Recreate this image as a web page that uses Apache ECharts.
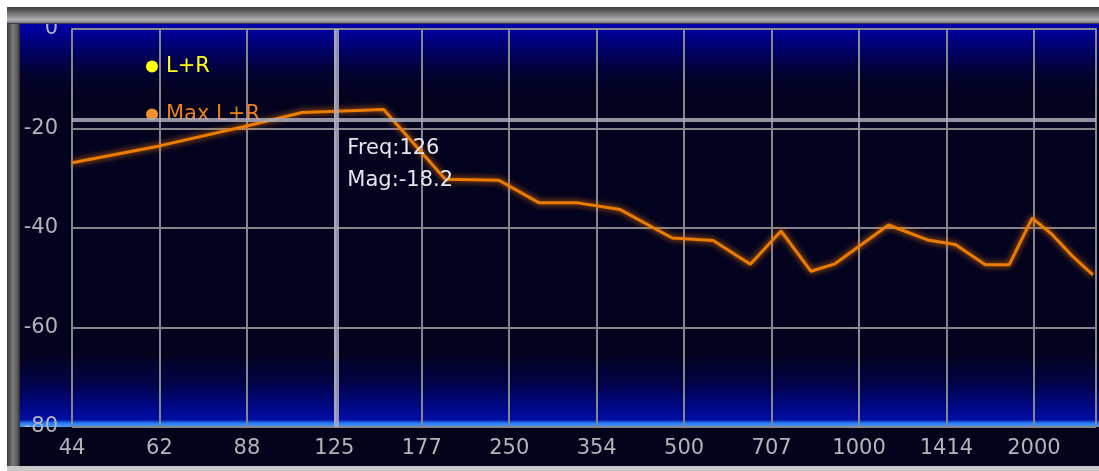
<!DOCTYPE html>
<html>
<head>
<meta charset="utf-8">
<script src="https://cdn.jsdelivr.net/npm/echarts@6/dist/echarts.min.js"></script>
<style>
  html, body { margin: 0; padding: 0; background: #ffffff; }
  #chart { width: 1099px; height: 471px; }
</style>
</head>
<body>
<div id="chart"></div>
<script>
// Frequency axis: one tick every half octave, labels as shown by the analyzer
const tickLabels = ['44', '62', '88', '125', '177', '250', '354', '500', '707', '1000', '1414', '2000'];
// Magnitude axis ticks (dB)
const magTicks = [-80, -60, -40, -20, 0];

// Peak-hold spectrum "Max L+R": frequency (Hz) and magnitude (dB)
const maxFreq = [44.2, 62.5, 88.3, 110, 152, 194, 240, 281, 326, 388, 477, 561, 650, 734, 827, 909, 1124, 1312, 1465, 1650, 1813, 1986, 2141, 2327, 2527];
const maxMag  = [-26.9, -23.5, -19.5, -16.8, -16.2, -30.2, -30.4, -34.9, -34.9, -36.3, -42.0, -42.5, -47.3, -40.6, -48.7, -47.2, -39.4, -42.4, -43.3, -47.4, -47.4, -38.0, -41.1, -45.6, -49.4];

// Live spectrum "L+R" (no trace captured)
const liveFreq = [];
const liveMag = [];

// Cursor read-out
const cursorFreq = 126;
const cursorMag = -18.2;

// Position on the frequency axis, in half octaves relative to 1 kHz
const halfOct = f => 2 * Math.log2(f / 1000);

const chart = echarts.init(document.getElementById('chart'), null, { renderer: 'canvas' });

const FONT = 'DejaVu Sans';
const GRID_COLOR = '#85858c';

const option = {
  animation: false,
  backgroundColor: '#ffffff',
  grid: { left: 72, right: 0, top: 29, bottom: 44, containLabel: false },
  legend: {
    orient: 'vertical',
    left: 146, top: 56, padding: 0,
    itemGap: 27, itemWidth: 12, itemHeight: 12,
    icon: 'circle',
    selectedMode: false,
    textStyle: { fontFamily: FONT, fontSize: 21, padding: [0, 0, 0, 3] },
    data: [
      { name: 'L+R', itemStyle: { color: '#ffff10' }, textStyle: { color: '#ffff10' } },
      { name: 'Max L+R', itemStyle: { color: '#f09030' }, textStyle: { color: '#e8801a' } }
    ]
  },
  xAxis: {
    type: 'value',
    min: -9, max: 2.71, interval: 1,
    axisLine: { show: true, lineStyle: { color: '#8a8a90', width: 2 } },
    axisTick: { show: true, length: 6, lineStyle: { color: '#8a8a90', width: 2 } },
    axisLabel: {
      margin: 11,
      color: '#b4b4b8', fontFamily: FONT, fontSize: 21,
      formatter: v => {
        const i = Math.round(v + 9);
        return Math.abs(v + 9 - i) < 1e-6 && tickLabels[i] !== undefined ? tickLabels[i] : '';
      }
    },
    splitLine: { show: true, lineStyle: { color: GRID_COLOR, width: 2 } }
  },
  yAxis: {
    type: 'value',
    min: magTicks[0], max: magTicks[magTicks.length - 1], interval: 20,
    axisLine: { show: true, lineStyle: { color: '#8a8a90', width: 2 } },
    axisTick: { show: true, length: 10, lineStyle: { color: '#8a8a90', width: 2 } },
    axisLabel: {
      margin: 14,
      color: '#b4b4b8', fontFamily: FONT, fontSize: 21,
      formatter: v => String(v)
    },
    splitLine: { show: true, lineStyle: { color: GRID_COLOR, width: 2 } }
  },
  series: [
    {
      name: 'L+R', type: 'line', showSymbol: false,
      itemStyle: { color: '#ffff10' },
      lineStyle: { color: '#ffff10', width: 2 },
      data: liveFreq.map((f, i) => [halfOct(f), liveMag[i]])
    },
    {
      name: 'Max L+R', type: 'line', showSymbol: false, z: 3,
      itemStyle: { color: '#f09030' },
      lineStyle: { color: '#ec7c00', width: 3, shadowBlur: 6, shadowColor: 'rgba(255,128,0,0.95)' },
      data: maxFreq.map((f, i) => [halfOct(f), maxMag[i]]),
      markLine: {
        silent: true, symbol: 'none', animation: false,
        label: { show: false },
        data: [
          { xAxis: halfOct(cursorFreq), lineStyle: { type: 'solid', width: 5, color: 'rgba(172,172,192,0.85)' } },
          { yAxis: cursorMag, lineStyle: { type: 'solid', width: 4, color: 'rgba(172,172,186,0.85)' } }
        ]
      }
    }
  ],
  graphic: [
    // panel body: blue glow at top and bottom edge of the plot band
    {
      id: 'panel', type: 'rect', z: -10, silent: true,
      shape: { x: 20, y: 23, width: 1079, height: 404 },
      style: {
        fill: new echarts.graphic.LinearGradient(0, 0, 0, 1, [
          { offset: 0.000, color: 'rgb(0,0,172)' },
          { offset: 0.025, color: 'rgb(0,0,150)' },
          { offset: 0.070, color: 'rgb(0,0,100)' },
          { offset: 0.120, color: 'rgb(2,2,52)' },
          { offset: 0.180, color: 'rgb(3,3,31)' },
          { offset: 0.820, color: 'rgb(3,3,31)' },
          { offset: 0.890, color: 'rgb(1,2,70)' },
          { offset: 0.955, color: 'rgb(0,8,140)' },
          { offset: 0.982, color: 'rgb(0,14,165)' },
          { offset: 0.990, color: 'rgb(40,120,240)' },
          { offset: 1.000, color: 'rgb(70,160,255)' }
        ])
      }
    },
    {
      id: 'panelBottom', type: 'rect', z: -10, silent: true,
      shape: { x: 20, y: 427, width: 1079, height: 39 },
      style: { fill: 'rgb(3,3,28)' }
    },
    // bezel: top
    {
      id: 'bezelTop', type: 'rect', z: 100, silent: true,
      shape: { x: 7, y: 7, width: 1092, height: 17, r: [4, 0, 0, 0] },
      style: {
        fill: new echarts.graphic.LinearGradient(0, 0, 0, 1, [
          { offset: 0, color: '#3c3c3c' },
          { offset: 0.35, color: '#6e6e6e' },
          { offset: 0.75, color: '#b0b0b0' },
          { offset: 0.9, color: '#8c8c8c' },
          { offset: 1, color: '#1a1a40' }
        ])
      }
    },
    // bezel: left
    {
      id: 'bezelLeft', type: 'rect', z: 99, silent: true,
      shape: { x: 7, y: 7, width: 13, height: 459 },
      style: {
        fill: new echarts.graphic.LinearGradient(0, 0, 1, 0, [
          { offset: 0, color: '#3a3a3a' },
          { offset: 0.45, color: '#7a7a7a' },
          { offset: 0.8, color: '#5a5a5a' },
          { offset: 1, color: '#2a2a2a' }
        ])
      }
    },
    // bezel: bottom
    {
      id: 'bezelBottom', type: 'rect', z: 99, silent: true,
      shape: { x: 7, y: 466, width: 1092, height: 5 },
      style: { fill: '#c8c8c8' }
    }
  ]
};

chart.setOption(option);

// Cursor read-out next to the crosshair
const p = chart.convertToPixel({ gridIndex: 0 }, [halfOct(cursorFreq), cursorMag]);
chart.setOption({
  graphic: {
    elements: [
      {
        id: 'cursorText', type: 'text', z: 50, silent: true,
        x: p[0] + 11, y: p[1] + 13,
        style: {
          text: 'Freq:' + cursorFreq + '\nMag:' + cursorMag.toFixed(1),
          fill: '#e6e6ea', font: '21px "DejaVu Sans"', lineHeight: 32,
          textAlign: 'left', textVerticalAlign: 'top'
        }
      }
    ]
  }
});
</script>
</body>
</html>
